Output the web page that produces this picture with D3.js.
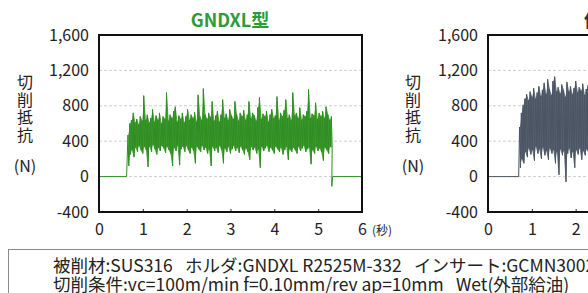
<!DOCTYPE html>
<head>
  <meta charset="utf-8">
  <title>切削抵抗</title>
  <script src="https://d3js.org/d3.v7.min.js"></script>
  <style>
    body { margin: 0; background: #fff; }
    svg text { font-family: "Noto Sans CJK JP", "Noto Sans", sans-serif; }
  </style>
</head>
<body>
  <svg id="main-svg"></svg>
  <script type="text/javascript">
    const svg_width = 588;
    const svg_height = 293;

    // y axis / x axis ticks
    var yTicks = [-400, 0, 400, 800, 1200, 1600];
    var yGrid = [0, 400, 800, 1200];
    var xTicks = [0, 1, 2, 3, 4, 5, 6];

    // GNDXL: idle lines before / after the cut (time s, force N)
    var gndxlBefore = [[0, 0], [0.63, 0]];
    var gndxlAfter = [[5.31, -110], [5.33, 0], [6, 0]];
    // cut: sampled every 0.04 s from 0.66 s, peak (hi) and trough (lo) of each sample
    var gndxlStart = 0.66, gndxlStep = 0.04;
    var gndxlHi = [
      470, 600, 640, 720, 610, 650, 590, 680, 630, 915,
      640, 700, 610, 660, 760, 620, 690, 640, 720, 600,
      680, 650, 950, 630, 700, 660, 740, 790, 620, 690,
      650, 720, 610, 680, 760, 640, 700, 660, 730, 620,
      925, 680, 640, 995, 700, 650, 720, 670, 850, 630,
      690, 740, 620, 700, 870, 660, 710, 640, 760, 690,
      650, 850, 700, 630, 720, 680, 750, 640, 700, 850,
      660, 720, 690, 630, 780, 895, 650, 710, 680, 740,
      620, 700, 760, 660, 690, 905, 640, 720, 680, 750,
      870, 660, 700, 640, 950, 690, 720, 660, 780, 640,
      700, 680, 740, 985, 660, 710, 690, 835, 650, 720,
      680, 740, 660, 790, 700, 640, 680
    ];
    var gndxlLo = [
      120, 250, 300, 220, 330, 280, 350, 300, 260, 340,
      300, 110, 340, 280, 360, 310, 250, 330, 290, 350,
      320, 270, 340, 300, 260, 120, 330, 290, 350, 130,
      310, 340, 280, 350, 300, 260, 330, 290, 150, 340,
      310, 280, 350, 300, 330, 260, 310, 120, 340, 290,
      330, 270, 350, 300, 150, 320, 280, 340, 260, 310,
      350, 290, 330, 270, 340, 300, 250, 320, 280, 190,
      340, 300, 330, 260, 310, 100, 340, 290, 320, 350,
      280, 330, 300, 260, 340, 310, 280, 330, 250, 300,
      340, 190, 310, 280, 330, 300, 260, 340, 290, 320,
      350, 280, 310, 330, 140, 300, 260, 340, 290, 320,
      280, 180, 330, 300, 260, 340, 320
    ];

    // other holder (right chart, cut off by the picture edge)
    var otherBefore = [[0, 0], [0.70, 0]];
    var otherStart = 0.72, otherStep = 0.04;
    var otherHi = [
      560, 720, 810, 880, 930, 860, 960, 900, 1000, 880,
      950, 1020, 910, 980, 1060, 930, 1100, 990, 920, 1080,
      1130, 960, 1010, 940, 1040, 980, 900, 1070, 960, 1020,
      930, 1000, 1080, 950, 1010, 970, 1050, 920, 990, 1030
    ];
    var otherLo = [
      100, 200, 150, 280, 220, 320, 250, 300, 180, 340,
      260, 310, 200, 330, 240, 290, 190, 320, 260, 300,
      150, 280, 20, 310, 240, 290, -60, 260, 320, 210,
      280, 100, 300, 250, 320, 190, 290, 240, 310, 270
    ];

    var svg = d3.select("#main-svg")
      .attr("width", svg_width)
      .attr("height", svg_height);

    function zigzag(start, step, hi, lo) {
      var pts = [];
      hi.forEach(function(h, i) {
        pts.push([start + i * step, h]);
        pts.push([start + i * step + step / 2, lo[i]]);
      });
      return pts;
    }

    var numFmt = function(d) { return d3.format(",")(d).replace("\u2212", "-"); };

    function drawPanel(opt) {
      var left = opt.left, top = 35, w = 263, h = 177;

      var x = d3.scaleLinear().domain([0, 6]).range([left, left + w]);
      var y = d3.scaleLinear().domain([-400, 1600]).range([top + h, top]);

      var g = svg.append("g");

      var clipId = "clip" + opt.id;
      svg.append("clipPath").attr("id", clipId)
        .append("rect")
        .attr("x", left).attr("y", top)
        .attr("width", w).attr("height", h);

      // grid
      g.selectAll(".grid")
        .data(yGrid)
        .enter().append("line")
        .attr("x1", left).attr("x2", left + w)
        .attr("y1", function(d) { return y(d); })
        .attr("y2", function(d) { return y(d); })
        .attr("stroke", "#cfcfcf")
        .attr("stroke-width", 1)
        .attr("stroke-dasharray", "3,2");

      // filled band between peaks and troughs
      var area = d3.area()
        .x(function(d, i) { return x(opt.start + i * opt.step + opt.step / 4); })
        .y0(function(d, i) { return y(opt.lo[i]); })
        .y1(function(d) { return y(d); });

      g.append("path")
        .attr("clip-path", "url(#" + clipId + ")")
        .attr("d", area(opt.hi))
        .attr("fill", opt.fill);

      var line = d3.line()
        .x(function(d) { return x(d[0]); })
        .y(function(d) { return y(d[1]); });

      var pts = opt.before.concat(zigzag(opt.start, opt.step, opt.hi, opt.lo)).concat(opt.after);

      g.append("path")
        .attr("clip-path", "url(#" + clipId + ")")
        .attr("d", line(pts))
        .attr("fill", "none")
        .attr("stroke", opt.color)
        .attr("stroke-width", 1)
        .attr("stroke-linejoin", "round");

      // y axis labels
      var yAxis = d3.axisLeft(y)
        .tickValues(yTicks)
        .tickFormat(numFmt)
        .tickSize(0)
        .tickPadding(10);
      var ya = g.append("g")
        .attr("transform", "translate(" + left + ",0)")
        .call(yAxis);
      ya.select(".domain").remove();
      ya.selectAll("text").style("font-size", "16px").style("fill", "#222");

      // x axis with small inner ticks
      var xAxis = d3.axisBottom(x)
        .tickValues(xTicks)
        .tickFormat(d3.format("d"))
        .tickSizeInner(-3)
        .tickSizeOuter(0)
        .tickPadding(12);
      var xa = g.append("g")
        .attr("transform", "translate(0," + (top + h) + ")")
        .call(xAxis);
      xa.select(".domain").remove();
      xa.selectAll("line").attr("stroke", "#333");
      xa.selectAll("text").style("font-size", "16px").style("fill", "#222");

      // frame
      g.append("rect")
        .attr("x", left).attr("y", top)
        .attr("width", w).attr("height", h)
        .attr("fill", "none")
        .attr("stroke", "#111")
        .attr("stroke-width", 2);

      // y title, vertical
      var yt = g.append("text")
        .attr("text-anchor", "middle")
        .style("font-size", "16px")
        .style("fill", "#222");
      "切削抵抗".split("").forEach(function(c, i) {
        yt.append("tspan")
          .attr("x", opt.labelX)
          .attr("y", 88 + i * 17.5)
          .text(c);
      });
      g.append("text")
        .attr("x", opt.labelX)
        .attr("y", 172)
        .attr("text-anchor", "middle")
        .style("font-size", "16px")
        .style("fill", "#222")
        .text("(N)");

      // chart title
      g.append("text")
        .attr("x", opt.titleX)
        .attr("y", 27)
        .attr("text-anchor", opt.titleAnchor)
        .style("font-size", "18px")
        .style("font-weight", "bold")
        .style("fill", opt.titleColor)
        .text(opt.title);

      return x;
    }

    drawPanel({
      id: 1, left: 99, labelX: 25,
      before: gndxlBefore, after: gndxlAfter,
      start: gndxlStart, step: gndxlStep, hi: gndxlHi, lo: gndxlLo,
      color: "#2f8d24", fill: "#4ea83a",
      title: "GNDXL型", titleX: 230, titleAnchor: "middle", titleColor: "#2e9b36"
    });

    drawPanel({
      id: 2, left: 488, labelX: 413,
      before: otherBefore, after: [],
      start: otherStart, step: otherStep, hi: otherHi, lo: otherLo,
      color: "#4a5462", fill: "#66707e",
      title: "他社品", titleX: 584, titleAnchor: "start", titleColor: "#333"
    });

    // seconds unit after last tick
    svg.append("text")
      .attr("x", 372)
      .attr("y", 235)
      .style("font-size", "12px")
      .style("fill", "#222")
      .text("(秒)");

    // conditions box
    svg.append("rect")
      .attr("x", 8.5).attr("y", 249.5)
      .attr("width", 600).attr("height", 60)
      .attr("fill", "none")
      .attr("stroke", "#8a8a8a")
      .attr("stroke-width", 1);

    var notes = [
      "被削材:SUS316\u2002\u2009ホルダ:GNDXL R2525M-332\u2002\u2009インサート:GCMN3002-G",
      "切削条件:vc=100m/min f=0.10mm/rev ap=10mm\u2002\u2009Wet(外部給油)"
    ];
    svg.selectAll(".note")
      .data(notes)
      .enter().append("text")
      .attr("class", "note")
      .attr("x", 53)
      .attr("y", function(d, i) { return 272 + i * 18.5; })
      .style("font-size", "17.5px")
      .style("fill", "#222")
      .text(function(d) { return d; });
  </script>
</body>
